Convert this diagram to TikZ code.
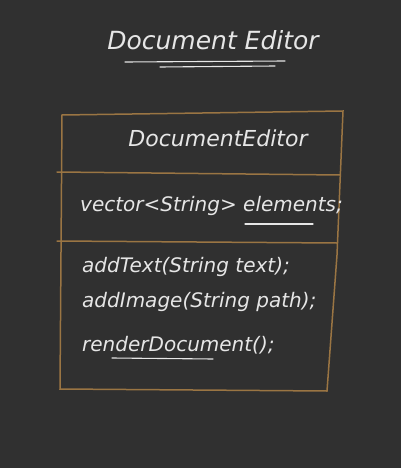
\documentclass[tikz,border=0pt]{standalone}
\usepackage{fontspec}
\setmainfont{DejaVu Sans}
\usetikzlibrary{calc}
\definecolor{bg}{HTML}{303030}
\definecolor{boxc}{HTML}{9A7543}
\definecolor{ink}{HTML}{E6E6E6}
\tikzset{
  chalk/.style={text=ink, font=\fontsize{22}{26}\selectfont\itshape, inner sep=0pt},
  small/.style={text=ink, font=\fontsize{20}{24}\selectfont\itshape, inner sep=0pt, anchor=west},
  boxline/.style={draw=boxc, line width=1.5pt, line cap=round},
  uline/.style={draw=ink, line width=1.1pt, line cap=round}
}
\begin{document}
\begin{tikzpicture}[x=1pt,y=-1pt]
\fill[bg] (0,0) rectangle (401,468);
\useasboundingbox (0,0) rectangle (401,468);
% title
\node[chalk, font=\fontsize{25}{30}\selectfont\itshape] (title) at (213,40) {Document Editor};
\coordinate (u1a) at (125,62); \coordinate (u1b) at (285,61);
\coordinate (u2a) at (160,67); \coordinate (u2b) at (275,66);
\draw[uline] (u1a) -- (u1b);
\draw[uline] (u2a) -- (u2b);
% box
\coordinate (tl) at (62,115); \coordinate (tr) at (343,111);
\coordinate (br) at (327,391); \coordinate (bl) at (60,389);
\draw[boxline] (tl) -- (tr) -- (337,255) -- (br) -- (bl) -- cycle;
\coordinate (d1a) at (57,172); \coordinate (d1b) at (340,175);
\coordinate (d2a) at (57,241); \coordinate (d2b) at (337,243);
\draw[boxline] (d1a) -- (d1b);
\draw[boxline] (d2a) -- (d2b);
% class name
\node[chalk] (cname) at (218,138) {DocumentEditor};
% attribute
\node[small] (attr) at (80,206) {vector<String> elements;};
\coordinate (ea) at (245,224); \coordinate (eb) at (313,224);
\draw[uline] (ea) -- (eb);
% methods
\node[small] (m1) at (82,267) {addText(String text);};
\node[small] (m2) at (82,302) {addImage(String path);};
\node[small] (m3) at (82,345) {renderDocument();};
\coordinate (ra) at (112,358); \coordinate (rb) at (213,359);
\draw[uline] (ra) -- (rb);
\end{tikzpicture}
\end{document}
